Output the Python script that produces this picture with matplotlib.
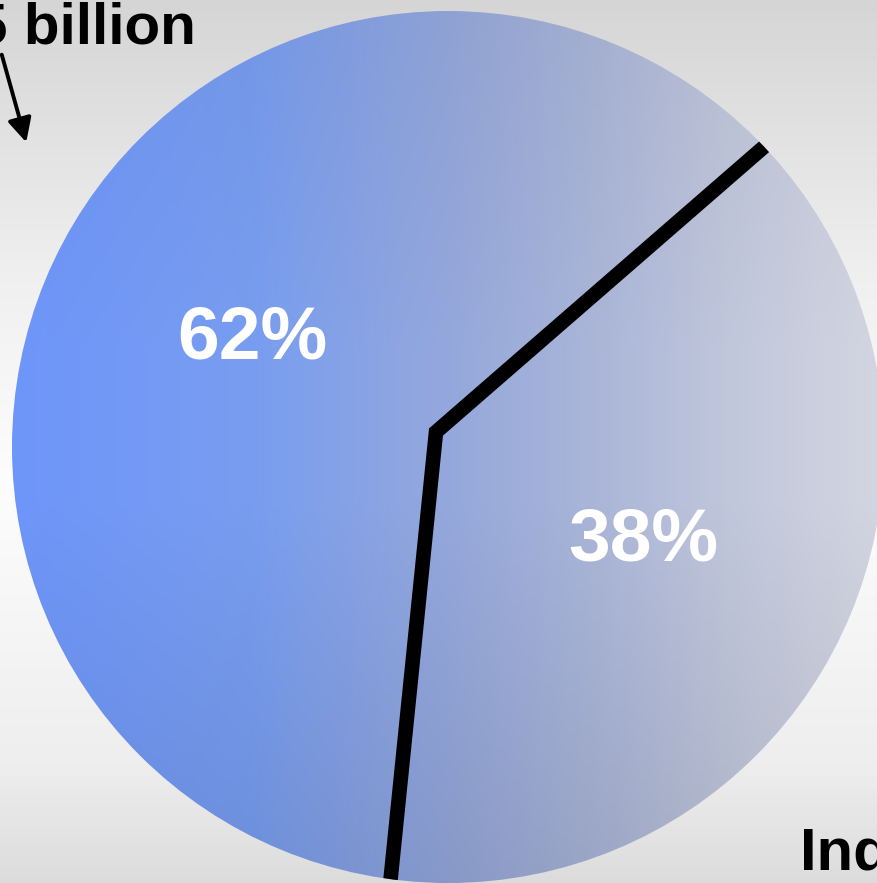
import numpy as np
import matplotlib
matplotlib.use("Agg")
import matplotlib.pyplot as plt
from matplotlib.colors import to_rgb
from matplotlib.patches import Circle
from matplotlib.transforms import offset_copy

plt.rcParams['font.family'] = ['Liberation Sans', 'DejaVu Sans']

# data
shares = [62, 38]
top_note = "5 billion"
bottom_note = "Ind"

W, H = 877, 883
cx, cy, R = 448, H - 447, 436      # outline of the disc
vx, vy = 436, H - 432              # where the slices meet (tilted pie)

fig = plt.figure(figsize=(W / 100, H / 100), dpi=100)
ax = fig.add_axes([0, 0, 1, 1])

# background: grey at top and bottom, almost white in the middle
bg_y = [0, 120, 400, 600, 883]
bg_c = ['#dcdcdc', '#eeeeee', '#fdfdfd', '#f0f0f0', '#d5d5d5']
ys = np.arange(H)
bg = np.zeros((H, 1, 3))
for k in range(3):
    bg[:, 0, k] = np.interp(ys, bg_y, [to_rgb(c)[k] for c in bg_c])
ax.imshow(bg, extent=(0, W, H, 0), aspect='auto', zorder=0)

# pie
wedges, texts, autotexts = ax.pie(
    shares, startangle=41, counterclock=True, center=(vx, vy), radius=440,
    autopct=lambda p: f"{p:.0f}%", pctdistance=0.5,
    wedgeprops=dict(facecolor='none', linewidth=0),
    textprops=dict(color='white', fontsize=54, fontweight='bold'))

disc = Circle((cx, cy), R, facecolor='none', edgecolor='none')
ax.add_patch(disc)

# gradient fill: blue on the left to pale grey on the right, darker at the bottom
gx = [12, 250, 450, 600, 740, 880]
gc = ['#6e96fa', '#789df0', '#95a8dc', '#abb6d8', '#c2c8dc', '#d3d6e1']
xs = np.arange(W)
row = np.zeros((W, 3))
for k in range(3):
    row[:, k] = np.interp(xs, gx, [to_rgb(c)[k] for c in gc])
shade = np.interp(ys, [10, 350, 500, 884], [0.96, 1.0, 1.0, 0.91])
grad = np.clip(row[None, :, :] * shade[:, None, None], 0, 1)

im = ax.imshow(grad, extent=(0, W, 0, H), origin='upper', aspect='auto', zorder=1)
im.set_clip_path(disc)

# separator lines between the slices
w = wedges[0]
a1, a2 = np.radians(w.theta1), np.radians(w.theta2)
rr = w.r + 30
sep, = ax.plot([vx + rr * np.cos(a1), vx, vx + rr * np.cos(a2)],
               [vy + rr * np.sin(a1), vy, vy + rr * np.sin(a2)],
               color='black', lw=10.5, solid_joinstyle='miter',
               solid_capstyle='butt', zorder=3)
sep.set_clip_path(disc)

# percentage labels sit a little right/down of the plain pie position
for t in autotexts:
    t.set_transform(offset_copy(ax.transData, fig=fig, x=12, y=-8, units='dots'))
    t.set_zorder(4)

ax.text(196, H - 43, top_note, ha='right', va='baseline', fontsize=42,
        fontweight='bold', color='black', zorder=5)
ax.annotate('', xy=(27, H - 145), xytext=(1, H - 52),
            arrowprops=dict(arrowstyle='-|>', color='black', lw=2.8, mutation_scale=36),
            zorder=5)
ax.text(800, H - 870, bottom_note, ha='left', va='baseline', fontsize=43,
        fontweight='bold', color='black', zorder=5)

ax.set_xlim(0, W)
ax.set_ylim(0, H)
ax.set_aspect('auto')
ax.axis('off')

fig.savefig('out.png', dpi=100)
